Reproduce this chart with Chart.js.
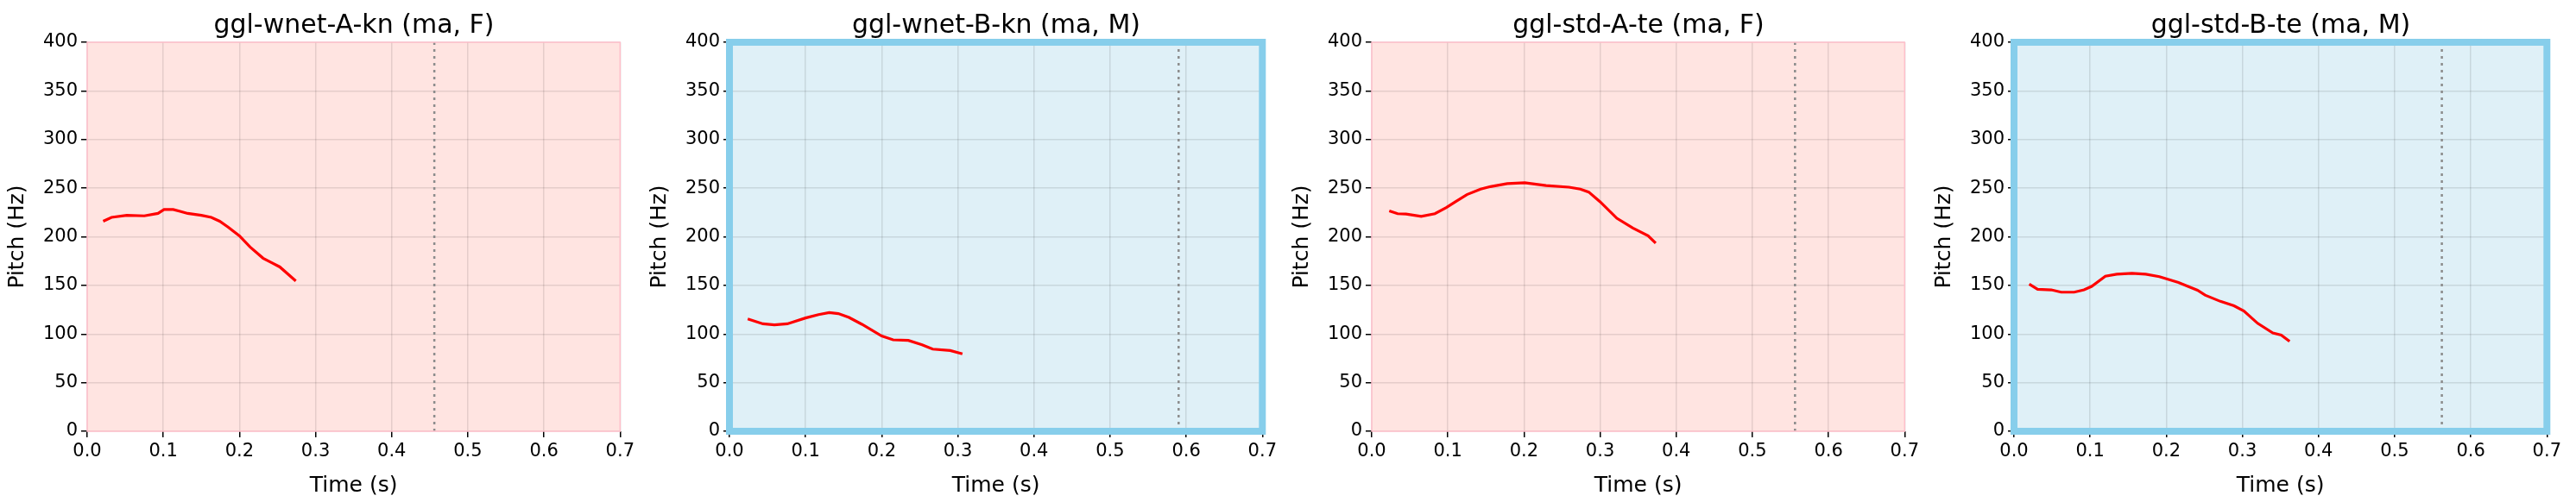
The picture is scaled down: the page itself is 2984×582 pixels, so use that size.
<!DOCTYPE html>
<html><head><meta charset="utf-8">
<script src="https://cdn.jsdelivr.net/npm/chart.js@4"></script>
<style>
body{margin:0;background:#fff;width:2984px;height:582px;position:relative;overflow:hidden;font-family:"DejaVu Sans",sans-serif}
.wrap{position:absolute;top:0;width:738px;height:582px}
.ttl{position:absolute;top:10px;font-size:30px;color:#000;text-align:center;width:618px;left:100px;white-space:nowrap}
canvas{display:block}
</style></head><body>
<script>
const titles = ["ggl-wnet-A-kn (ma, F)","ggl-wnet-B-kn (ma, M)","ggl-std-A-te (ma, F)","ggl-std-B-te (ma, M)"];
const kinds = ["A","B","A","B"];
const xTicks = [0,0.1,0.2,0.3,0.4,0.5,0.6,0.7];
const yTicks = [0,50,100,150,200,250,300,350,400];
const endMarks = [0.456,0.590,0.556,0.562];
const t1 = [.021,.032,.052,.075,.093,.101,.113,.123,.132,.150,.163,.174,.185,.200,.214,.231,.243,.253,.274];
const f1 = [216,220,222,221.5,224,228,228,226,224,222,220,216,210,201,189.5,178,173,169,154.6];
const t2 = [.024,.044,.059,.076,.100,.117,.131,.143,.157,.174,.200,.215,.235,.253,.267,.290,.306];
const f2 = [115.5,110.5,109.5,110.5,116.5,120,122,121,117,110,98,94,93.4,89,84.5,83,79.6];
const t3 = [.023,.034,.045,.065,.083,.098,.110,.125,.143,.156,.178,.201,.229,.259,.274,.285,.300,.322,.343,.363,.373];
const f3 = [226.6,223.7,223.4,221,223.7,230,236,243.4,249,251.6,254.6,255.6,252.6,251,249,246,236,219,209,201,193.4];
const t4 = [.020,.031,.049,.062,.079,.092,.102,.120,.135,.155,.173,.191,.216,.241,.251,.271,.289,.302,.320,.340,.351,.362];
const f4 = [151.3,146,145.4,143,143,145.4,149,159.5,161.5,162.5,161.5,159,153,145,140,133.6,129,123.7,111,101,99,92.4];
const times = [t1,t2,t3,t4];
const pitches = [f1,f2,f3,f4];
const plotLefts = [101,845,1589,2333];

const styles = {
  A:{bg:"#ffe4e1", border:"#ffc0cb", bw:1.5},
  B:{bg:"#dff0f7", border:"#87ceeb", bw:8}
};
const panelBg = {
  id:"panelBg",
  beforeDraw(c){const s=styles[c.options.plugins.panelBg.kind];const a=c.chartArea,x=c.ctx;
    x.save();x.fillStyle=s.bg;x.fillRect(a.left,a.top,a.width,a.height);x.restore();},
  afterDatasetsDraw(c){const s=styles[c.options.plugins.panelBg.kind];const a=c.chartArea,x=c.ctx;
    x.save();x.strokeStyle=s.border;x.lineWidth=s.bw;x.strokeRect(a.left,a.top,a.width,a.height);x.restore();}
};
Chart.register(panelBg);
Chart.defaults.font.family = "'DejaVu Sans', sans-serif";
Chart.defaults.color = "#000";

for(let i=0;i<4;i++){
  const w=document.createElement("div");w.className="wrap";w.style.left=(plotLefts[i]-100)+"px";
  const tt=document.createElement("div");tt.className="ttl";tt.textContent=titles[i];
  const cv=document.createElement("canvas");
  cv.width=738;cv.height=582;
  w.appendChild(cv);w.appendChild(tt);document.body.appendChild(w);
  new Chart(cv,{
    type:"line",
    data:{datasets:[
      {data:times[i].map((t,k)=>({x:t,y:pitches[i][k]})),borderColor:"#ff0000",borderWidth:3.2,pointRadius:0,tension:0},
      {data:[{x:endMarks[i],y:0},{x:endMarks[i],y:400}],borderColor:"#8c8c8c",borderWidth:2.5,borderDash:[3,5],pointRadius:0}
    ]},
    options:{
      responsive:false,animation:false,devicePixelRatio:1,
      layout:{padding:{top:49,right:20,left:0,bottom:0}},
      plugins:{legend:{display:false},tooltip:{enabled:false},panelBg:{kind:kinds[i]}},
      scales:{
        x:{type:"linear",min:0,max:0.7,
          afterBuildTicks:s=>{s.ticks=xTicks.map(v=>({value:v}));},
          afterFit:s=>{s.height=82;},
          ticks:{font:{size:21},callback:v=>v.toFixed(1),padding:4,maxRotation:0},
          grid:{color:"rgba(0,0,0,0.1)",lineWidth:1.5,tickColor:"#000",tickLength:7,tickWidth:1.5},
          border:{display:false},
          title:{display:true,text:"Time (s)",font:{size:25},padding:{top:0}}
        },
        y:{type:"linear",min:0,max:400,
          afterBuildTicks:s=>{s.ticks=yTicks.map(v=>({value:v}));},
          afterFit:s=>{s.width=100;},
          ticks:{font:{size:21},padding:4},
          grid:{color:"rgba(0,0,0,0.1)",lineWidth:1.5,tickColor:"#000",tickLength:7,tickWidth:1.5},
          border:{display:false},
          title:{display:true,text:"Pitch (Hz)",font:{size:25},padding:{bottom:2}}
        }
      }
    }
  });
}
</script>
</body></html>
